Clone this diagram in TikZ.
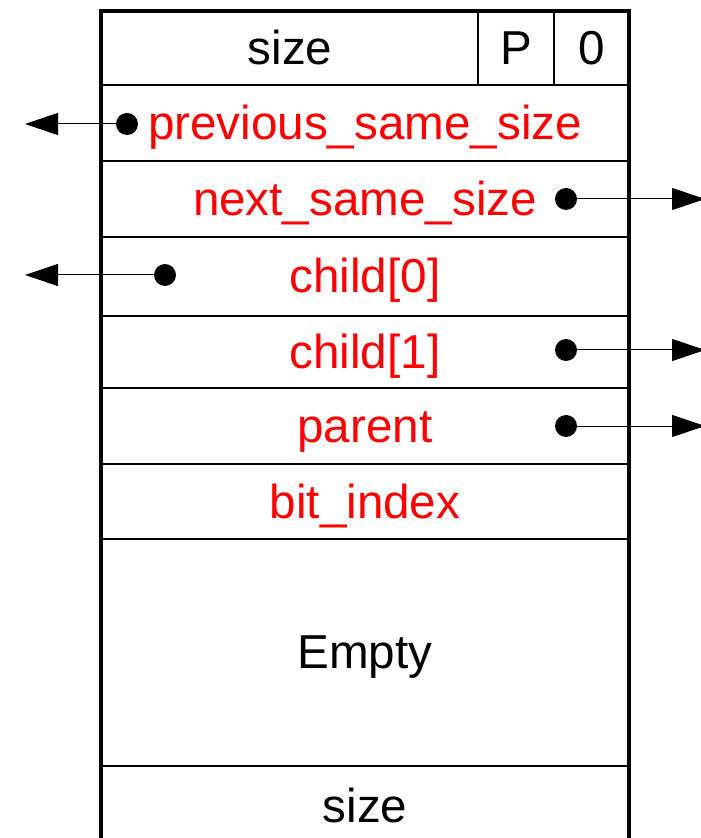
\documentclass[tikz,border=0pt]{standalone}
\usepackage{fontspec}
\setmainfont{Liberation Sans}
\usetikzlibrary{arrows.meta}

\begin{document}
\begin{tikzpicture}[x=0.5pt, y=-0.5pt,
    field/.style={font=\fontsize{23.8}{28}\selectfont, inner sep=0pt, anchor=base},
    ptrfield/.style={field, red},
    dot/.style={circle, fill, inner sep=0pt, minimum size=11pt},
    ptr/.style={line width=0.5pt, -{Stealth[inset=0pt, length=16.5pt, width=11pt]}}]
  \useasboundingbox (0,0) rectangle (700,838);

  % header row split into size / P / 0
  \draw[line width=0.85pt] (478,11) -- (478,85) (554,11) -- (554,85);
  \foreach \y in {85,161,237,316,388,464,539,766}
    \draw[line width=0.85pt] (101,\y) -- (629,\y);
  \draw[line width=1.6pt] (101,842) -- (101,11) -- (629,11) -- (629,842);

  \node[field] (hsize) at (290,65) {size};
  \node[field] (pbit) at (516,65) {P};
  \node[field] (zbit) at (592,65) {0};
  \node[ptrfield] (prev) at (365,140) {previous\_same\_size};
  \node[ptrfield] (next) at (365,216) {next\_same\_size};
  \node[ptrfield] (child0) at (365,293) {child[0]};
  \node[ptrfield] (child1) at (365,369) {child[1]};
  \node[ptrfield] (parent) at (365,443) {parent};
  \node[ptrfield] (bitidx) at (365,518) {bit\_index};
  \node[field] (empty) at (365,668) {Empty};
  \node[field] (fsize) at (365,822) {size};

  % pointers leaving the block
  \node[dot] (dprev) at (127,124) {};
  \node[dot] (dnext) at (566,199) {};
  \node[dot] (dchild0) at (165,275) {};
  \node[dot] (dchild1) at (566,350) {};
  \node[dot] (dparent) at (566,426) {};
  \coordinate (eprev) at (25,124);
  \coordinate (enext) at (705,199);
  \coordinate (echild0) at (25,275);
  \coordinate (echild1) at (705,350);
  \coordinate (eparent) at (705,426);
  \draw[ptr] (dprev.center) -- (eprev);
  \draw[ptr] (dnext.center) -- (enext);
  \draw[ptr] (dchild0.center) -- (echild0);
  \draw[ptr] (dchild1.center) -- (echild1);
  \draw[ptr] (dparent.center) -- (eparent);
\end{tikzpicture}
\end{document}
